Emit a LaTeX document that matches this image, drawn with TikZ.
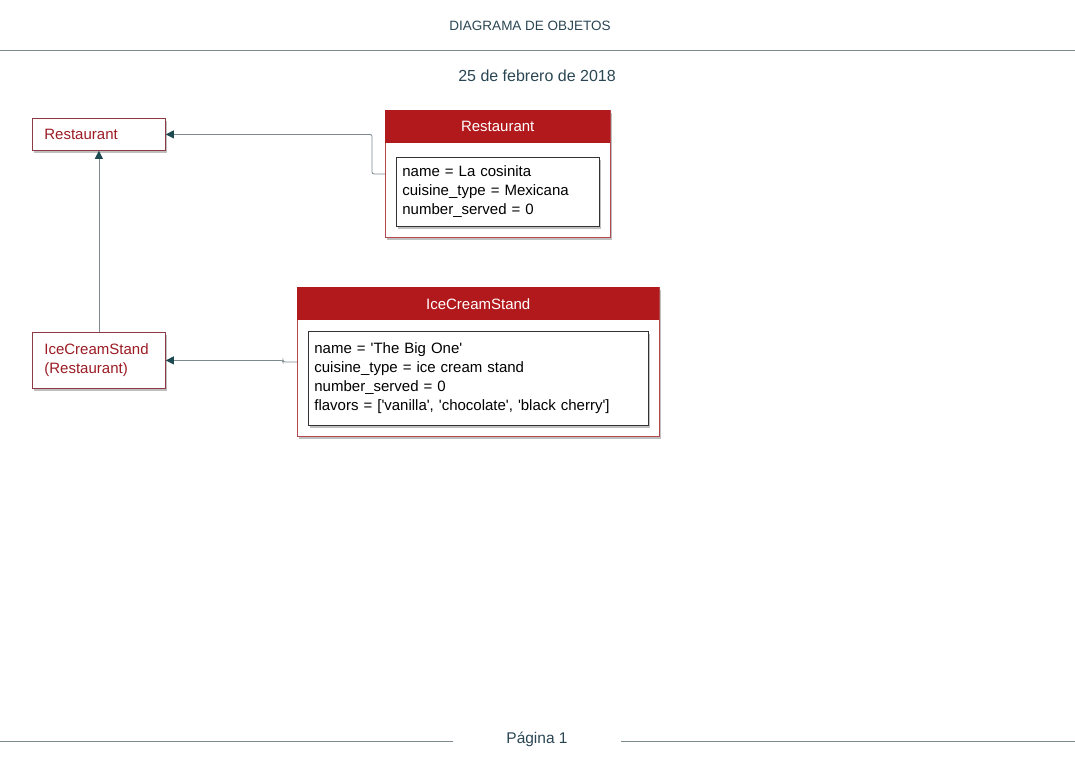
\documentclass[tikz,border=0pt]{standalone}
\usepackage{fontspec}
\setmainfont{Liberation Sans}
\usepackage{xcolor}
\usetikzlibrary{positioning,shadows,arrows.meta}

\definecolor{headred}{HTML}{B2191D}
\definecolor{clsedge}{HTML}{8E3A45}
\definecolor{clstext}{HTML}{9B1C24}
\definecolor{frameedge}{HTML}{B5484D}
\definecolor{slatetext}{HTML}{2A4653}
\definecolor{linegray}{HTML}{7C8A90}
\definecolor{tipteal}{HTML}{1D4A50}

\newcommand{\sq}{\textquotesingle}

\tikzset{
  bodyfont/.style={font=\fontsize{15}{19}\selectfont},
  softshadow/.style={drop shadow={shadow xshift=2pt, shadow yshift=-3pt,
    opacity=0.5, fill=gray}},
  classbox/.style={draw=clsedge, fill=white, thick, bodyfont, text=clstext,
    align=left, inner xsep=12pt, text width=109pt, anchor=north west, softshadow},
  objframe/.style={draw=frameedge, fill=white, thick, anchor=north west, softshadow},
  objhead/.style={fill=headred, text=white, bodyfont, anchor=north west,
    inner sep=0pt},
  attrbox/.style={draw=black!80, fill=white, thick, bodyfont, align=left,
    inner xsep=6pt, anchor=north west, softshadow},
  connector/.style={draw=linegray, thick, rounded corners=2pt,
    -{Triangle[length=8pt, width=8pt, color=tipteal]}},
  pagetext/.style={font=\fontsize{13.5}{16}\selectfont, text=slatetext}
}

\begin{document}
\begin{tikzpicture}[x=1pt, y=-1pt]
  \useasboundingbox (0,0) rectangle (1075,756);

  % ---------- page header and footer ----------
  \node[pagetext] (title) at (530,26) {DIAGRAMA DE OBJETOS};
  \draw[linegray, thick] (0,50) -- (1075,50);
  \node[pagetext, font=\fontsize{16}{18}\selectfont] (date) at (537,76) {25 de febrero de 2018};
  \node[pagetext, font=\fontsize{15.5}{18}\selectfont] (page) at (537,739) {Página 1};
  \draw[linegray, thick] (0,741) -- (453,741);
  \draw[linegray, thick] (621,741) -- (1075,741);

  % ---------- classes ----------
  \node[classbox, minimum height=32pt] (clsRest) at (32,118) {Restaurant};
  \node[classbox, minimum height=56pt] (clsIce) at (32,332)
    {IceCreamStand\\(Restaurant)};

  % ---------- object: Restaurant ----------
  \node[objframe, minimum width=225pt, minimum height=127pt] (objRest) at (385,110) {};
  \node[objhead, minimum width=225pt, minimum height=33pt] (objRestHead) at (385,110) {Restaurant};
  \node[attrbox, text width=191pt, minimum height=69pt] (objRestAttr) at (396,157)
    {name = La cosinita\\cuisine\_type = Mexicana\\number\_served = 0};

  % ---------- object: IceCreamStand ----------
  \node[objframe, minimum width=362pt, minimum height=149pt] (objIce) at (297,287) {};
  \node[objhead, minimum width=362pt, minimum height=33pt] (objIceHead) at (297,287) {IceCreamStand};
  \node[attrbox, text width=328pt, minimum height=94pt] (objIceAttr) at (308,331)
    {name = \sq The Big One\sq\\cuisine\_type = ice cream stand\\number\_served = 0\\flavors = [\sq vanilla\sq, \sq chocolate\sq, \sq black cherry\sq]};

  % ---------- links ----------
  \draw[connector] (clsIce.north) -- (clsRest.south);
  \draw[connector] (objRest.west) -- ++(-13,0) |- (clsRest.east);
  \draw[connector] (objIce.west) -- ++(-14,0) |- (clsIce.east);
\end{tikzpicture}
\end{document}
